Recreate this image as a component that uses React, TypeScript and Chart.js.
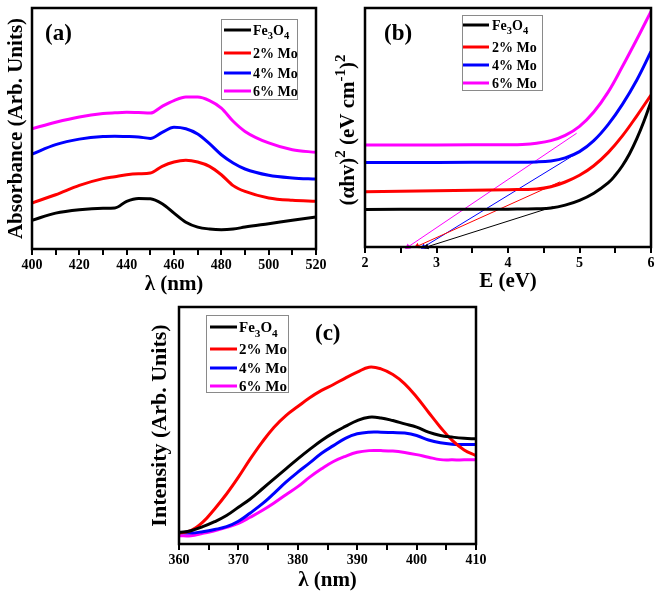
import React, { useEffect, useRef } from 'react';
import { Chart, registerables } from 'chart.js';

Chart.register(...registerables);

const FONT = '"Liberation Serif", "Times New Roman", serif';

// ---------- shared ----------
const seriesNames = ['Fe3O4', '2% Mo', '4% Mo', '6% Mo'];
const seriesColors = ['#000000', '#ff0000', '#0000ff', '#ff00ff'];

// ---------- panel (a) absorbance ----------
const absWavelength = [400, 410, 420, 430, 435, 440, 445, 450, 455, 460, 465, 470, 475, 480, 485, 490, 500, 510, 520];
const absFe3O4 = [0.119, 0.149, 0.163, 0.169, 0.170, 0.198, 0.210, 0.209, 0.188, 0.149, 0.111, 0.091, 0.083, 0.080, 0.083, 0.091, 0.105, 0.119, 0.133];
const absMo2 = [0.191, 0.225, 0.264, 0.292, 0.300, 0.308, 0.312, 0.315, 0.343, 0.361, 0.368, 0.361, 0.343, 0.308, 0.263, 0.239, 0.212, 0.202, 0.198];
const absMo4 = [0.394, 0.433, 0.456, 0.467, 0.468, 0.467, 0.465, 0.459, 0.484, 0.505, 0.499, 0.477, 0.437, 0.391, 0.357, 0.332, 0.306, 0.295, 0.290];
const absMo6 = [0.499, 0.526, 0.548, 0.562, 0.565, 0.567, 0.566, 0.564, 0.592, 0.616, 0.631, 0.631, 0.616, 0.585, 0.530, 0.488, 0.440, 0.412, 0.401];

// ---------- panel (b) Tauc plot ----------
const taucEFe3O4 = [2, 3, 4, 4.2, 4.4, 4.6, 4.8, 5.0, 5.2, 5.4, 5.5, 5.6, 5.7, 5.8, 5.9, 6.0];
const taucFe3O4 = [0.157, 0.158, 0.158, 0.159, 0.160, 0.163, 0.175, 0.195, 0.225, 0.268, 0.300, 0.340, 0.390, 0.452, 0.525, 0.608];
const taucEMo2 = [2, 3, 4, 4.4, 4.6, 4.8, 5.0, 5.2, 5.4, 5.6, 5.8, 6.0];
const taucMo2 = [0.231, 0.235, 0.240, 0.243, 0.252, 0.272, 0.300, 0.340, 0.395, 0.465, 0.548, 0.636];
const taucEMo4 = [2, 3, 4, 4.4, 4.6, 4.8, 5.0, 5.2, 5.4, 5.6, 5.8, 6.0];
const taucMo4 = [0.354, 0.354, 0.355, 0.356, 0.360, 0.373, 0.399, 0.445, 0.512, 0.597, 0.698, 0.818];
const taucEMo6 = [2, 3, 4, 4.2, 4.4, 4.6, 4.8, 5.0, 5.2, 5.4, 5.6, 5.8, 6.0];
const taucMo6 = [0.427, 0.427, 0.428, 0.429, 0.434, 0.445, 0.467, 0.505, 0.565, 0.648, 0.755, 0.868, 0.986];
// extrapolation lines: [start E, end E] and [start value, end value]
const fitEFe3O4 = [4.63, 2.86];
const fitFe3O4 = [0.168, 0.0];
const fitEMo2 = [4.73, 2.73];
const fitMo2 = [0.273, 0.003];
const fitEMo4 = [5.0, 2.82];
const fitMo4 = [0.399, 0.0];
const fitEMo6 = [4.96, 2.6];
const fitMo6 = [0.476, 0.0];

// ---------- panel (c) PL ----------
const plWavelength = [360, 362, 364, 366, 368, 370, 372, 374, 376, 378, 380, 382, 384, 386, 388, 390, 392, 394, 396, 398, 400, 402, 404, 406, 408, 410];
const plFe3O4 = [0.049, 0.056, 0.073, 0.094, 0.120, 0.155, 0.190, 0.232, 0.275, 0.317, 0.359, 0.399, 0.437, 0.469, 0.496, 0.521, 0.535, 0.532, 0.521, 0.507, 0.493, 0.472, 0.458, 0.451, 0.446, 0.444];
const plMo2 = [0.045, 0.056, 0.092, 0.148, 0.211, 0.282, 0.359, 0.430, 0.493, 0.542, 0.580, 0.617, 0.648, 0.673, 0.700, 0.725, 0.746, 0.739, 0.715, 0.676, 0.620, 0.556, 0.493, 0.437, 0.397, 0.373];
const plMo4 = [0.049, 0.046, 0.052, 0.061, 0.073, 0.096, 0.131, 0.169, 0.214, 0.261, 0.303, 0.342, 0.383, 0.415, 0.446, 0.465, 0.472, 0.472, 0.470, 0.468, 0.458, 0.439, 0.427, 0.421, 0.420, 0.420];
const plMo6 = [0.035, 0.035, 0.045, 0.056, 0.070, 0.087, 0.113, 0.141, 0.173, 0.208, 0.242, 0.282, 0.317, 0.348, 0.370, 0.387, 0.394, 0.394, 0.392, 0.386, 0.377, 0.366, 0.356, 0.355, 0.355, 0.355];

// ---------- helpers ----------
type Seg = { t: string; size: number; dy: number };

function pts(xs: number[], ys: number[]) {
  return xs.map((x, i) => ({ x, y: ys[i] }));
}

function labelSegs(name: string, size: number): Seg[] {
  if (name === 'Fe3O4') {
    return [
      { t: 'Fe', size, dy: 0 },
      { t: '3', size: size * 0.75, dy: size * 0.3 },
      { t: 'O', size, dy: 0 },
      { t: '4', size: size * 0.75, dy: size * 0.3 },
    ];
  }
  return [{ t: name, size, dy: 0 }];
}

function richWidth(ctx: CanvasRenderingContext2D, segs: Seg[]) {
  let w = 0;
  for (const s of segs) {
    ctx.font = `bold ${s.size}px ${FONT}`;
    w += ctx.measureText(s.t).width;
  }
  return w;
}

function drawRich(ctx: CanvasRenderingContext2D, segs: Seg[], x: number, y: number) {
  let cx = x;
  ctx.textAlign = 'left';
  ctx.textBaseline = 'alphabetic';
  for (const s of segs) {
    ctx.font = `bold ${s.size}px ${FONT}`;
    ctx.fillText(s.t, cx, y + s.dy);
    cx += ctx.measureText(s.t).width;
  }
}

type Decor = {
  panelLabel: string;
  labelX: number;
  labelY: number;
  legendBox: [number, number, number, number];
  rows: number[];
  lineX: [number, number];
  textX: number;
  legendSize: number;
  yTitle?: { segs: Seg[]; x: number; y: number };
};

function decorPlugin(d: Decor) {
  return {
    id: 'decor',
    afterDatasetsDraw(chart: any) {
      const ctx: CanvasRenderingContext2D = chart.ctx;
      const ca = chart.chartArea;
      ctx.save();
      // frame
      ctx.strokeStyle = '#000';
      ctx.lineWidth = 2.5;
      ctx.strokeRect(ca.left, ca.top, ca.right - ca.left, ca.bottom - ca.top);
      // legend box
      const [bx0, by0, bx1, by1] = d.legendBox;
      ctx.fillStyle = '#ffffff';
      ctx.fillRect(bx0, by0, bx1 - bx0, by1 - by0);
      ctx.strokeStyle = '#8a8a8a';
      ctx.lineWidth = 1;
      ctx.strokeRect(bx0 + 0.5, by0 + 0.5, bx1 - bx0, by1 - by0);
      seriesNames.forEach((name, i) => {
        const y = d.rows[i];
        ctx.strokeStyle = seriesColors[i];
        ctx.lineWidth = 3;
        ctx.beginPath();
        ctx.moveTo(d.lineX[0], y);
        ctx.lineTo(d.lineX[1], y);
        ctx.stroke();
        ctx.fillStyle = '#000';
        drawRich(ctx, labelSegs(name, d.legendSize), d.textX, y + d.legendSize * 0.35);
      });
      // panel label
      ctx.fillStyle = '#000';
      ctx.font = `bold 23px ${FONT}`;
      ctx.textAlign = 'left';
      ctx.textBaseline = 'middle';
      ctx.fillText(d.panelLabel, d.labelX, d.labelY);
      // custom rotated y title
      if (d.yTitle) {
        ctx.save();
        ctx.translate(d.yTitle.x, d.yTitle.y);
        ctx.rotate(-Math.PI / 2);
        const w = richWidth(ctx, d.yTitle.segs);
        drawRich(ctx, d.yTitle.segs, -w / 2, 7);
        ctx.restore();
      }
      ctx.restore();
    },
  };
}

function xScale(opts: {
  min: number; max: number; step: number; every: number; height: number; title: string; titlePad: number;
}) {
  return {
    type: 'linear',
    position: 'bottom',
    min: opts.min,
    max: opts.max,
    afterFit: (s: any) => { s.height = opts.height; },
    border: { display: false },
    grid: { display: true, drawOnChartArea: false, drawTicks: true, tickLength: 6, color: '#000', lineWidth: 2 },
    ticks: {
      stepSize: opts.step,
      autoSkip: false,
      maxRotation: 0,
      minRotation: 0,
      padding: 2,
      color: '#000',
      font: { family: FONT, size: 14, weight: 'bold' },
      callback: (v: any) => {
        const n = Number(v);
        const r = n / opts.every;
        return Math.abs(r - Math.round(r)) < 1e-6 ? String(Math.round(n * 100) / 100) : '';
      },
    },
    title: {
      display: true,
      text: opts.title,
      color: '#000',
      font: { family: FONT, size: 21, weight: 'bold', lineHeight: 1 },
      padding: { top: 0, bottom: opts.titlePad },
    },
  };
}

function yScale(opts: { width: number; title?: string; titlePad?: number; size?: number }) {
  return {
    type: 'linear',
    position: 'left',
    min: 0,
    max: 1,
    afterFit: (s: any) => { s.width = opts.width; },
    border: { display: false },
    grid: { display: false },
    ticks: { display: false },
    title: {
      display: !!opts.title,
      text: opts.title || '',
      color: '#000',
      font: { family: FONT, size: opts.size || 21, weight: 'bold', lineHeight: 1 },
      padding: { top: opts.titlePad || 0, bottom: 0 },
    },
  };
}

function lineDs(xs: number[], ys: number[], i: number, smooth: 'monotone' | number) {
  const base: any = {
    label: seriesNames[i],
    data: pts(xs, ys),
    borderColor: seriesColors[i],
    backgroundColor: seriesColors[i],
    borderWidth: 3,
    pointRadius: 0,
    fill: false,
  };
  if (smooth === 'monotone') base.cubicInterpolationMode = 'monotone';
  else base.tension = smooth;
  return base;
}

function fitDs(xs: number[], ys: number[], i: number) {
  return {
    label: seriesNames[i] + ' fit',
    data: pts(xs, ys),
    borderColor: seriesColors[i],
    backgroundColor: seriesColors[i],
    borderWidth: 1,
    pointRadius: [0, 3.5],
    pointStyle: 'triangle',
    pointBorderWidth: 0,
    pointRotation: (c: any) => {
      const data = c.dataset.data;
      const xs2 = c.chart.scales.x;
      const ys2 = c.chart.scales.y;
      const dx = xs2.getPixelForValue(data[1].x) - xs2.getPixelForValue(data[0].x);
      const dy = ys2.getPixelForValue(data[1].y) - ys2.getPixelForValue(data[0].y);
      return (Math.atan2(dx, -dy) * 180) / Math.PI;
    },
    tension: 0,
    clip: 6,
    fill: false,
  };
}

function baseOptions(padding: any, scales: any) {
  return {
    responsive: false,
    maintainAspectRatio: false,
    animation: false,
    devicePixelRatio: 1,
    layout: { padding },
    plugins: { legend: { display: false }, tooltip: { enabled: false } },
    events: [],
    scales,
  };
}

function configA() {
  return {
    type: 'line',
    data: {
      datasets: [
        lineDs(absWavelength, absFe3O4, 0, 'monotone'),
        lineDs(absWavelength, absMo2, 1, 'monotone'),
        lineDs(absWavelength, absMo4, 2, 'monotone'),
        lineDs(absWavelength, absMo6, 3, 'monotone'),
      ],
    },
    options: baseOptions(
      { top: 8, right: 14, left: 0, bottom: 0 },
      {
        x: xScale({ min: 400, max: 520, step: 10, every: 20, height: 51, title: 'λ (nm)', titlePad: 5 }),
        y: yScale({ width: 32, title: 'Absorbance (Arb. Units)', titlePad: 6.5 }),
      }
    ),
    plugins: [
      decorPlugin({
        panelLabel: '(a)', labelX: 45, labelY: 34,
        legendBox: [221, 19, 297, 99], rows: [30, 53, 73, 91], lineX: [224, 251], textX: 253, legendSize: 14,
      }),
    ],
  };
}

function configB() {
  return {
    type: 'line',
    data: {
      datasets: [
        lineDs(taucEFe3O4, taucFe3O4, 0, 0.4),
        lineDs(taucEMo2, taucMo2, 1, 0.4),
        lineDs(taucEMo4, taucMo4, 2, 0.4),
        lineDs(taucEMo6, taucMo6, 3, 0.4),
        fitDs(fitEFe3O4, fitFe3O4, 0),
        fitDs(fitEMo2, fitMo2, 1),
        fitDs(fitEMo4, fitMo4, 2),
        fitDs(fitEMo6, fitMo6, 3),
      ],
    },
    options: baseOptions(
      { top: 8, right: 10, left: 0, bottom: 0 },
      {
        x: xScale({ min: 2, max: 6, step: 0.5, every: 1, height: 53, title: 'E (eV)', titlePad: 8 }),
        y: yScale({ width: 35 }),
      }
    ),
    plugins: [
      decorPlugin({
        panelLabel: '(b)', labelX: 54, labelY: 34,
        legendBox: [132, 15, 212, 90], rows: [25, 47, 65, 83], lineX: [133, 159], textX: 162, legendSize: 14,
        yTitle: {
          x: 17,
          y: 130,
          segs: [
            { t: '(αhv)', size: 21, dy: 0 },
            { t: '2', size: 15, dy: -9 },
            { t: ' (eV cm', size: 21, dy: 0 },
            { t: '-1', size: 15, dy: -9 },
            { t: ')', size: 21, dy: 0 },
            { t: '2', size: 15, dy: -9 },
          ],
        },
      }),
    ],
  };
}

function configC() {
  return {
    type: 'line',
    data: {
      datasets: [
        lineDs(plWavelength, plFe3O4, 0, 0.4),
        lineDs(plWavelength, plMo2, 1, 0.4),
        lineDs(plWavelength, plMo4, 2, 0.4),
        lineDs(plWavelength, plMo6, 3, 0.4),
      ],
    },
    options: baseOptions(
      { top: 7, right: 14, left: 0, bottom: 0 },
      {
        x: xScale({ min: 360, max: 410, step: 5, every: 10, height: 57, title: 'λ (nm)', titlePad: 10 }),
        y: yScale({ width: 49, title: 'Intensity (Arb. Units)', titlePad: 19.5, size: 22 }),
      }
    ),
    plugins: [
      decorPlugin({
        panelLabel: '(c)', labelX: 185, labelY: 34,
        legendBox: [76, 15, 158, 92], rows: [27, 49, 68, 86], lineX: [80, 107], textX: 109, legendSize: 15,
      }),
    ],
  };
}

function Panel(props: { left: number; top: number; width: number; height: number; make: () => any }) {
  const ref = useRef<HTMLCanvasElement | null>(null);
  useEffect(() => {
    if (!ref.current) return;
    const chart = new Chart(ref.current, props.make());
    return () => chart.destroy();
  }, []);
  return (
    <canvas
      ref={ref}
      width={props.width}
      height={props.height}
      style={{ position: 'absolute', left: props.left, top: props.top, width: props.width, height: props.height }}
    />
  );
}

export default function App() {
  return (
    <div style={{ position: 'absolute', left: 0, top: 0, width: 661, height: 601, background: '#ffffff', overflow: 'hidden' }}>
      <Panel left={0} top={0} width={330} height={300} make={configA} />
      <Panel left={330} top={0} width={331} height={300} make={configB} />
      <Panel left={130} top={300} width={360} height={301} make={configC} />
    </div>
  );
}
